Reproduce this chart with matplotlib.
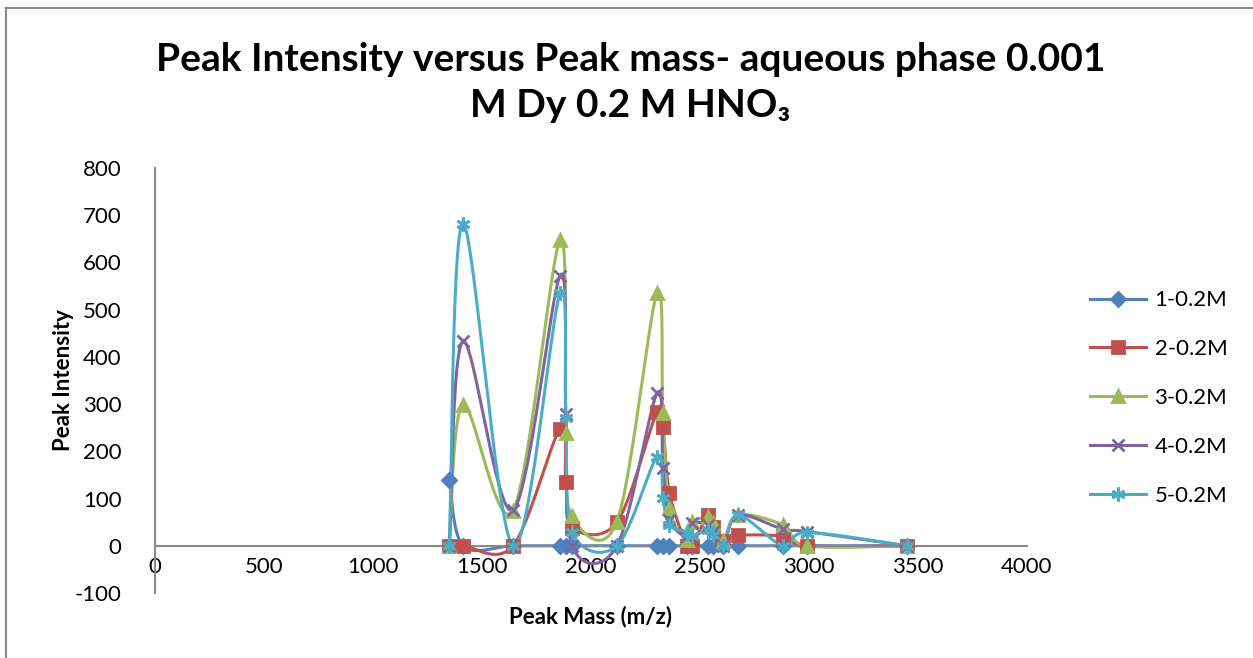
import numpy as np
import matplotlib.pyplot as plt

plt.rcParams['font.family'] = ['Lato', 'DejaVu Sans']
plt.rcParams['axes.unicode_minus'] = False

# peak masses (m/z) and intensities for each sample
mass = [1350, 1413, 1642, 1858, 1885, 1913, 2119, 2303, 2330, 2360,
        2440, 2463, 2537, 2560, 2606, 2674, 2881, 2991, 3450]
s1 = [140, 0, 0, 0, 0, 0, 0, 0, 0, 0, 0, 0, 0, 0, 0, 0, 0, 0, 0]
s2 = [0, 0, 0, 247, 136, 38, 50, 284, 251, 112, 0, 0, 65, 40, 10, 22, 20, 0, 0]
s3 = [0, 298, 74, 648, 239, 62, 51, 535, 281, 80, 13, 50, 60, 48, 10, 65, 44, 0, 0]
s4 = [0, 433, 75, 572, 280, 0, 0, 323, 165, 55, 20, 48, 45, 30, 0, 65, 35, 30, 0]
s5 = [0, 682, 0, 535, 270, 30, 0, 188, 102, 44, 28, 20, 34, 22, 0, 65, 0, 28, 0]
labels = ['1-0.2M', '2-0.2M', '3-0.2M', '4-0.2M', '5-0.2M']
colors = ['#4F81BD', '#C0504D', '#9BBB59', '#8064A2', '#4BACC6']
markers = ['D', 's', '^', 'x', (6, 2, 0)]
msizes = [7, 8, 9, 9, 10]


def smooth(x, y, n=40):
    # bezier smoothing through every point, control points at 1/6 of neighbour span
    p = np.column_stack([x, y]).astype(float)
    p = np.vstack([p[0], p, p[-1]])
    out = []
    t = np.linspace(0, 1, n)[:, None]
    for i in range(1, len(p) - 2):
        p0, p1, p2, p3 = p[i - 1], p[i], p[i + 1], p[i + 2]
        c1 = p1 + (p2 - p0) / 6
        c2 = p2 - (p3 - p1) / 6
        seg = ((1 - t) ** 3) * p1 + 3 * ((1 - t) ** 2) * t * c1 + 3 * (1 - t) * t ** 2 * c2 + t ** 3 * p2
        out.append(seg)
    out = np.vstack(out)
    return out[:, 0], out[:, 1]


fig = plt.figure(figsize=(12.53, 6.58), dpi=100)
ax = fig.add_axes([0.1237, 0.0988, 0.6959, 0.6459])

for ys, lab, c, m, ms in zip([s1, s2, s3, s4, s5], labels, colors, markers, msizes):
    sx, sy = smooth(mass, ys)
    ax.plot(sx, sy, color=c, lw=2.2, zorder=2)
    ax.plot(mass, ys, ls='none', marker=m, color=c, ms=ms, mew=2, zorder=3)
    ax.plot([], [], color=c, lw=2.2, marker=m, ms=ms, mew=2, label=lab)

ax.set_xlim(0, 4000)
ax.set_ylim(-100, 800)
ax.set_xticks(np.arange(0, 4001, 500))
ax.set_yticks(np.arange(-100, 801, 100))
ax.spines['bottom'].set_position(('data', 0))
ax.spines['top'].set_visible(False)
ax.spines['right'].set_visible(False)
for sp in ['bottom', 'left']:
    ax.spines[sp].set_color('#898989')
    ax.spines[sp].set_linewidth(1.5)
ax.tick_params(length=0, labelsize=16)
ax.tick_params(axis='x', pad=8)
ax.tick_params(axis='y', pad=24)

ax.set_xlabel('Peak Mass (m/z)', fontsize=16, fontweight='bold')
ax.xaxis.set_label_coords(0.5, -0.03)
ax.set_ylabel('Peak Intensity', fontsize=16, fontweight='bold')
ax.yaxis.set_label_coords(-0.093, 0.5)

fig.text(0.503, 0.91, 'Peak Intensity versus Peak mass- aqueous phase 0.001',
         ha='center', va='center', fontsize=28, fontweight='bold')
fig.text(0.503, 0.84, 'M Dy 0.2 M HNO₃',
         ha='center', va='center', fontsize=28, fontweight='bold')

fig.legend(loc='center left', bbox_to_anchor=(0.854, 0.395), frameon=False,
           fontsize=16, handlelength=2.5, labelspacing=1.3, handletextpad=0.4)

# outer chart frame
fig.add_artist(plt.Line2D([0.005, 0.005], [0, 0.988], color='#898989', lw=1.5))
fig.add_artist(plt.Line2D([0.005, 1], [0.988, 0.988], color='#898989', lw=1.5))

fig.savefig('out.png', dpi=100)
